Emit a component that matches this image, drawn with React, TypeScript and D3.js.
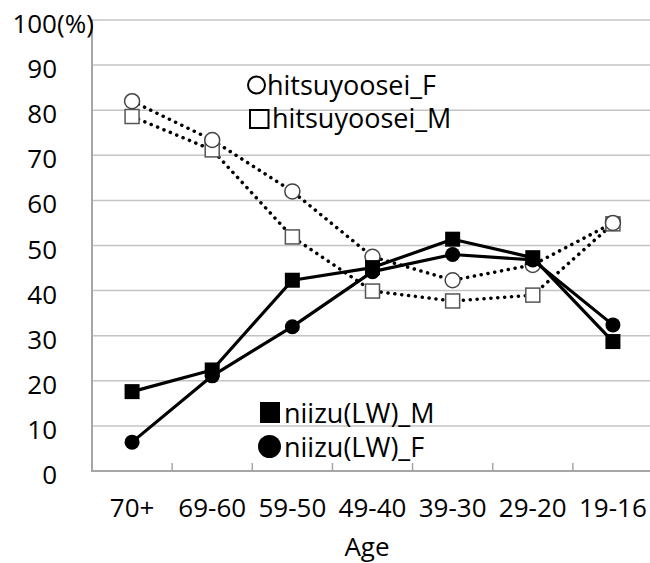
import React, { useEffect } from "react";
import * as d3 from "d3";

const categories = ["70+", "69-60", "59-50", "49-40", "39-30", "29-20", "19-16"];
const hitsuyooseiF = [82, 73.4, 62, 47.5, 42.3, 45.7, 55];
const hitsuyooseiM = [78.6, 71.2, 51.9, 39.9, 37.7, 39.0, 54.8];
const niizuM = [17.6, 22.4, 42.3, 45.1, 51.4, 47.3, 28.7];
const niizuF = [6.4, 21.1, 32, 44.2, 48, 46.8, 32.4];
const yTicks = [0, 10, 20, 30, 40, 50, 60, 70, 80, 90, 100];

const W = 650;
const H = 563;
const FONT = "'Open Sans', sans-serif";

export default function App() {
  useEffect(() => {
    document.body.style.margin = "0";
  }, []);

  const x = d3.scaleBand<string>().domain(categories).range([92, 653]);
  const y = d3.scaleLinear().domain([0, 100]).range([471, 20]);
  const cx = (c: string) => (x(c) as number) + x.bandwidth() / 2;

  const line = d3
    .line<number>()
    .x((_, i) => cx(categories[i]))
    .y((d) => y(d));

  const dotted = { fill: "none", stroke: "#000", strokeWidth: 3.5, strokeDasharray: "0.1 6.8", strokeLinecap: "round" as const };
  const solid = { fill: "none", stroke: "#000", strokeWidth: 3.2, strokeLinejoin: "round" as const };

  return (
    <svg width={W} height={H} style={{ display: "block" }} fontFamily={FONT}>
      <rect width={W} height={H} fill="#fff" />
      {yTicks.filter((t) => t > 0).map((t) => (
        <line key={t} x1={92} x2={653} y1={y(t)} y2={y(t)} stroke="#c4c4c4" strokeWidth={1.5} />
      ))}
      <line x1={92} x2={92} y1={y(100)} y2={y(0)} stroke="#a6a6a6" strokeWidth={2} />
      <line x1={91} x2={653} y1={y(0)} y2={y(0)} stroke="#a6a6a6" strokeWidth={2} />
      {categories.slice(1).map((c) => (
        <line key={c} x1={x(c) as number} x2={x(c) as number} y1={y(0)} y2={y(0) - 8} stroke="#a6a6a6" strokeWidth={1.5} />
      ))}
      {yTicks.map((t) => (
        <text key={t} x={57} y={y(t) + 13} fontSize={26} textAnchor="end" fill="#000">
          {t}
        </text>
      ))}
      <text x={57} y={y(100) + 13} fontSize={26} textAnchor="start" fill="#000">
        (%)
      </text>
      {categories.map((c) => (
        <text key={c} x={cx(c)} y={517} fontSize={26} textAnchor="middle" fill="#000">
          {c}
        </text>
      ))}
      <text x={367} y={556} fontSize={26} textAnchor="middle" fill="#000">
        Age
      </text>

      <path d={line(hitsuyooseiF) as string} {...dotted} />
      <path d={line(hitsuyooseiM) as string} {...dotted} />
      {hitsuyooseiM.map((v, i) => (
        <rect key={"hm" + i} x={cx(categories[i]) - 7} y={y(v) - 7} width={14} height={14} fill="#fff" stroke="#555" strokeWidth={1.5} />
      ))}
      {hitsuyooseiF.map((v, i) => (
        <circle key={"hf" + i} cx={cx(categories[i])} cy={y(v)} r={7.5} fill="#fff" stroke="#444" strokeWidth={1.5} />
      ))}

      <path d={line(niizuM) as string} {...solid} />
      <path d={line(niizuF) as string} {...solid} />
      {niizuM.map((v, i) => (
        <rect key={"nm" + i} x={cx(categories[i]) - 7.5} y={y(v) - 7.5} width={15} height={15} fill="#000" />
      ))}
      {niizuF.map((v, i) => (
        <circle key={"nf" + i} cx={cx(categories[i])} cy={y(v)} r={7.5} fill="#000" />
      ))}

      <circle cx={256.5} cy={85} r={8.5} fill="#fff" stroke="#000" strokeWidth={2} />
      <text x={267} y={95} fontSize={27} fill="#000">hitsuyoosei_F</text>
      <rect x={250} y={110} width={18.5} height={18} fill="#fff" stroke="#000" strokeWidth={2} />
      <text x={272} y={128} fontSize={27} fill="#000">hitsuyoosei_M</text>
      <rect x={260} y={402} width={20} height={21} fill="#000" />
      <text x={284} y={423} fontSize={27} fill="#000">niizu(LW)_M</text>
      <circle cx={269.5} cy={446.5} r={11.5} fill="#000" />
      <text x={284} y={457} fontSize={27} fill="#000">niizu(LW)_F</text>
    </svg>
  );
}
